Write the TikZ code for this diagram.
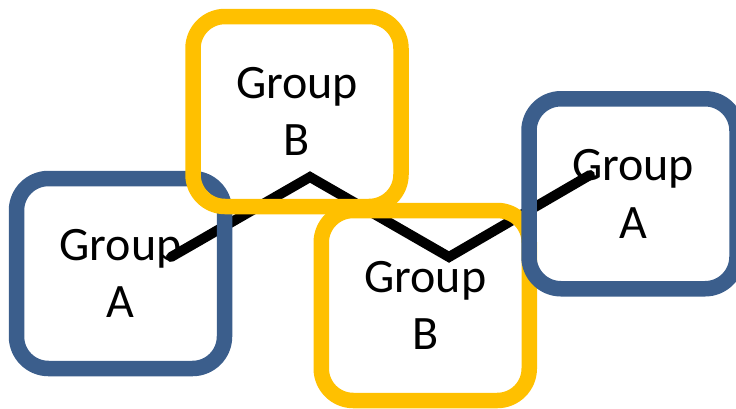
\documentclass[tikz,border=0pt]{standalone}
\usepackage{fontspec}
\setmainfont{Carlito}
\definecolor{groupblue}{HTML}{3B5E8C}
\definecolor{groupgold}{HTML}{FFC000}
\begin{document}
\begin{tikzpicture}[x=1pt,y=-1pt,
  grp/.style={draw=#1, line width=15.5pt, rounded corners=32pt,
    minimum width=208pt, minimum height=190pt, align=center,
    font=\fontsize{48}{57.6}\selectfont, text=black},
  link/.style={line width=10pt, line cap=round, line join=miter}]
\useasboundingbox (0,0) rectangle (736,408);
% zig-zag path running behind the groups
\coordinate (p0) at (171,257);
\coordinate (p1) at (310,177);
\coordinate (p2) at (449,257);
\coordinate (p3) at (590,175);
\draw[link] (p0) -- (p1) -- (p2) -- (p3);
% group frames, later ones on top
\node[grp=groupblue] (a1) at (120.5,273.5) {Group\\A};
\node[grp=groupgold] (b1) at (297,111.5) {Group\\B};
\node[grp=groupgold] (b2) at (425.25,305.5) {Group\\B};
\node[grp=groupblue] (a2) at (633,193.75) {Group\\A};
\end{tikzpicture}
\end{document}
